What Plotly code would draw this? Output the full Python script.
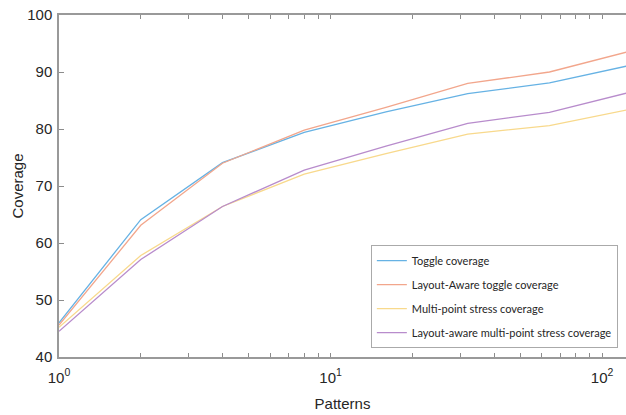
import plotly.graph_objects as go

patterns = [1, 2, 4, 8, 16, 32, 64, 128]
toggle = [46.0, 64.1, 74.1, 79.4, 83.0, 86.2, 88.1, 91.2]
layout_toggle = [45.6, 63.1, 74.0, 79.8, 83.8, 88.0, 90.0, 93.7]
multipoint = [45.2, 57.8, 66.4, 72.1, 75.7, 79.1, 80.6, 83.5]
layout_multipoint = [44.5, 57.1, 66.4, 72.8, 77.0, 81.0, 82.9, 86.5]

names = ["Toggle coverage", "Layout-Aware toggle coverage",
         "Multi-point stress coverage", "Layout-aware multi-point stress coverage"]
series = [toggle, layout_toggle, multipoint, layout_multipoint]
colors = ["#66b2e4", "#f2a68c", "#f8d98c", "#b88ccc"]

xtick_vals = [1, 2, 3, 4, 5, 6, 7, 8, 9, 10, 20, 30, 40, 50, 60, 70, 80, 90, 100, 200]
xtick_text = ["10<sup>0</sup>", "", "", "", "", "", "", "", "",
              "10<sup>1</sup>", "", "", "", "", "", "", "", "",
              "10<sup>2</sup>", ""]
ytick_vals = [40, 50, 60, 70, 80, 90, 100]

fig = go.Figure()
for i, (n, s, c) in enumerate(zip(names, series, colors)):
    fig.add_trace(go.Scatter(x=patterns, y=s, name=n, mode="lines",
                             line=dict(color=c, width=1.3),
                             legendgroup=str(i)))

axis_font = dict(family="Liberation Sans, Arial, sans-serif", size=15, color="#262626")
fig.update_layout(
    width=626, height=415,
    margin=dict(l=59, r=0, t=15, b=58),
    paper_bgcolor="white", plot_bgcolor="white",
    showlegend=True,
    legend=dict(x=0.55, y=0.327, xanchor="left", yanchor="top",
                bordercolor="#aaaaaa", borderwidth=1, bgcolor="white",
                font=dict(family="Lato, sans-serif", size=11, color="#262626"),
                itemwidth=30,
                traceorder="grouped", tracegroupgap=5),
    xaxis=dict(type="log", range=[0, 2.088], tickvals=xtick_vals, ticktext=xtick_text,
               ticks="inside", ticklen=4, tickcolor="#8c8c8c", tickwidth=1,
               showline=True, linecolor="#999999", linewidth=1.5, mirror="allticks",
               showgrid=False, zeroline=False,
               tickfont=axis_font, ticklabelstandoff=6,
               title=dict(text="Patterns", font=axis_font, standoff=14)),
    yaxis=dict(range=[40, 100], tickvals=ytick_vals,
               ticks="inside", ticklen=5, tickcolor="#8c8c8c", tickwidth=1,
               showline=True, linecolor="#999999", linewidth=1.5,
               showgrid=False, zeroline=False,
               tickfont=axis_font, ticklabelstandoff=2,
               title=dict(text="Coverage", font=axis_font, standoff=0)),
)
fig.write_html("out.html", config={"displayModeBar": False},
               post_script="document.body.style.margin='0';")
